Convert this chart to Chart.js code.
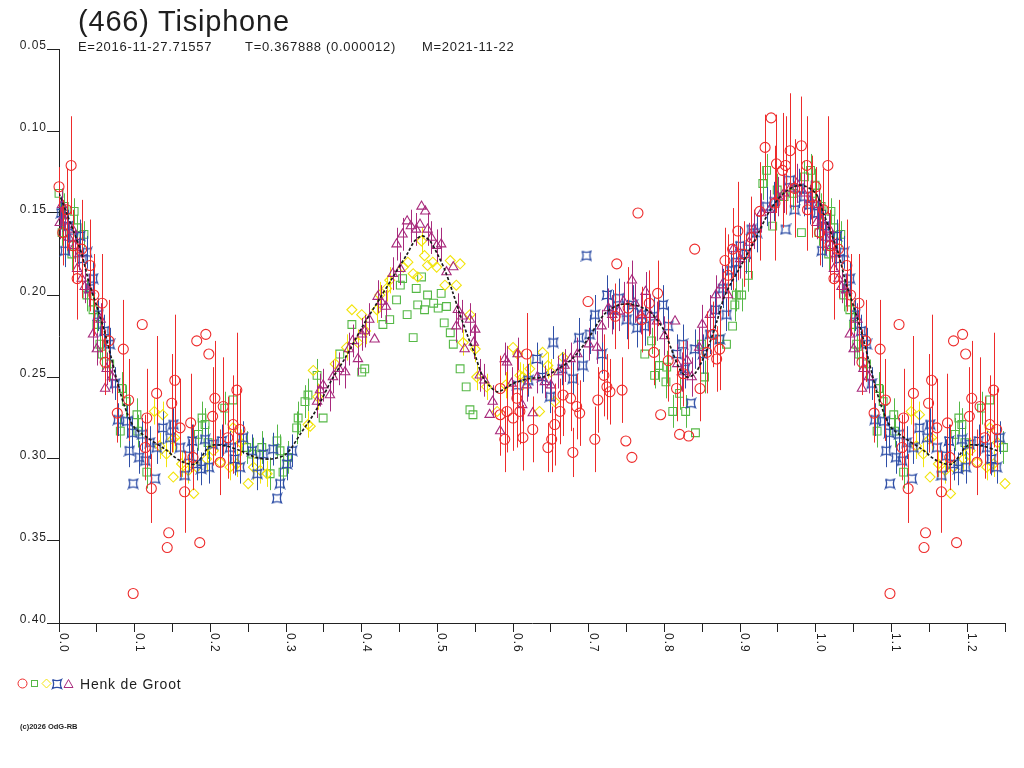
<!DOCTYPE html>
<html>
<head>
<meta charset="utf-8">
<title>(466) Tisiphone</title>
<script src="https://cdn.jsdelivr.net/npm/chart.js@4.4.1/dist/chart.umd.min.js"></script>
<style>
    body { margin: 0; background: #fff; }
    #wrap { position: relative; width: 1024px; height: 768px; overflow: hidden; }
    #lc { position: absolute; left: 0; top: 0; }
    .txt { position: absolute; color: #1e1e1e; font-family: "Liberation Sans", Arial, sans-serif; white-space: pre; }
    #title { left: 78px; top: 7px; font-size: 29px; line-height: 29px; letter-spacing: 0.8px; }
    .sub { top: 40px; font-size: 13px; line-height: 13px; letter-spacing: 0.7px; }
    #observer { left: 80px; top: 677px; font-size: 14px; line-height: 14px; letter-spacing: 0.8px; }
    #copy { left: 20px; top: 723px; font-size: 7.5px; line-height: 8px; font-weight: bold; }
</style>
</head>
<body>
<div id="wrap">
    <canvas id="lc" width="1024" height="768"></canvas>
    <div class="txt" id="title">(466) Tisiphone</div>
    <div class="txt sub" style="left:78px">E=2016-11-27.71557</div>
    <div class="txt sub" style="left:245px">T=0.367888 (0.000012)</div>
    <div class="txt sub" style="left:422px">M=2021-11-22</div>
    <div class="txt" id="observer">Henk de Groot</div>
    <div class="txt" id="copy">(c)2026 OdG-RB</div>
</div>
<script>
// tick labels
const phaseLabels = ['0.0', '0.1', '0.2', '0.3', '0.4', '0.5', '0.6', '0.7', '0.8', '0.9', '1.0', '1.1', '1.2'];
const magLabels = ['0.05', '0.10', '0.15', '0.20', '0.25', '0.30', '0.35', '0.40'];

// observations: [phase, magnitude, error]
const redObs = [
    [0.000, 0.134, 0.012], [0.005, 0.162, 0.020], [0.010, 0.148, 0.025], [0.016, 0.121, 0.030],
    [0.019, 0.170, 0.022], [0.024, 0.190, 0.025], [0.030, 0.172, 0.030], [0.041, 0.182, 0.028],
    [0.046, 0.200, 0.025], [0.057, 0.205, 0.030], [0.061, 0.241, 0.020], [0.066, 0.228, 0.025],
    [0.077, 0.272, 0.018], [0.085, 0.233, 0.030], [0.092, 0.264, 0.025], [0.098, 0.382, 0.000],
    [0.110, 0.218, 0.000], [0.114, 0.293, 0.020], [0.116, 0.275, 0.030], [0.122, 0.318, 0.021],
    [0.129, 0.260, 0.035], [0.143, 0.354, 0.000], [0.145, 0.345, 0.000], [0.149, 0.266, 0.030],
    [0.153, 0.252, 0.040], [0.160, 0.281, 0.030], [0.166, 0.320, 0.025], [0.174, 0.278, 0.030],
    [0.177, 0.299, 0.020], [0.182, 0.228, 0.000], [0.186, 0.351, 0.000], [0.194, 0.224, 0.000],
    [0.198, 0.236, 0.000], [0.203, 0.274, 0.030], [0.206, 0.263, 0.035], [0.213, 0.302, 0.020],
    [0.217, 0.268, 0.030], [0.223, 0.287, 0.025], [0.230, 0.279, 0.030], [0.235, 0.258, 0.035],
    [0.239, 0.282, 0.025],
    [0.583, 0.257, 0.020], [0.583, 0.273, 0.025], [0.589, 0.288, 0.020], [0.592, 0.271, 0.025],
    [0.600, 0.275, 0.020], [0.605, 0.263, 0.030], [0.609, 0.271, 0.020], [0.613, 0.287, 0.020],
    [0.618, 0.236, 0.025], [0.626, 0.282, 0.020], [0.646, 0.293, 0.015], [0.651, 0.288, 0.020],
    [0.655, 0.279, 0.025], [0.662, 0.271, 0.020], [0.666, 0.261, 0.025], [0.676, 0.263, 0.020],
    [0.679, 0.296, 0.015], [0.684, 0.268, 0.020], [0.688, 0.272, 0.020], [0.699, 0.204, 0.000],
    [0.708, 0.288, 0.020], [0.712, 0.264, 0.020], [0.720, 0.249, 0.025], [0.724, 0.256, 0.020],
    [0.728, 0.259, 0.020], [0.735, 0.213, 0.020], [0.737, 0.181, 0.000], [0.744, 0.258, 0.020],
    [0.749, 0.289, 0.000], [0.752, 0.208, 0.025], [0.757, 0.299, 0.000], [0.765, 0.150, 0.000],
    [0.770, 0.215, 0.020], [0.780, 0.205, 0.020], [0.786, 0.235, 0.020], [0.791, 0.199, 0.020],
    [0.795, 0.273, 0.000], [0.805, 0.240, 0.025], [0.816, 0.257, 0.020], [0.820, 0.285, 0.000],
    [0.825, 0.248, 0.020], [0.832, 0.286, 0.000], [0.840, 0.172, 0.000], [0.847, 0.257, 0.020],
    [0.856, 0.235, 0.025], [0.864, 0.224, 0.020], [0.869, 0.239, 0.020], [0.873, 0.233, 0.025],
    [0.880, 0.179, 0.020], [0.884, 0.188, 0.025], [0.890, 0.172, 0.025], [0.897, 0.161, 0.030],
    [0.905, 0.175, 0.020], [0.915, 0.165, 0.025], [0.926, 0.149, 0.030], [0.933, 0.110, 0.020],
    [0.941, 0.092, 0.000], [0.946, 0.144, 0.035], [0.948, 0.120, 0.030], [0.956, 0.124, 0.035],
    [0.960, 0.121, 0.030], [0.966, 0.112, 0.035], [0.972, 0.135, 0.030], [0.981, 0.109, 0.030],
    [0.988, 0.121, 0.030], [0.989, 0.148, 0.025], [0.995, 0.140, 0.025]
];

const greenObs = [
    [0.000, 0.138, 0.008], [0.004, 0.162, 0.008], [0.007, 0.146, 0.008], [0.017, 0.175, 0.010],
    [0.020, 0.149, 0.008], [0.024, 0.159, 0.008], [0.033, 0.163, 0.008], [0.037, 0.200, 0.010],
    [0.045, 0.209, 0.010], [0.050, 0.218, 0.010], [0.054, 0.230, 0.010], [0.057, 0.236, 0.010],
    [0.067, 0.242, 0.010], [0.081, 0.283, 0.010], [0.083, 0.257, 0.010], [0.089, 0.265, 0.010],
    [0.103, 0.273, 0.010], [0.104, 0.283, 0.010], [0.116, 0.308, 0.010], [0.184, 0.285, 0.010],
    [0.189, 0.275, 0.010], [0.193, 0.279, 0.010], [0.197, 0.290, 0.010], [0.219, 0.269, 0.010],
    [0.230, 0.264, 0.010], [0.248, 0.293, 0.010], [0.256, 0.297, 0.010], [0.268, 0.293, 0.010],
    [0.279, 0.309, 0.010], [0.288, 0.289, 0.010], [0.292, 0.295, 0.010], [0.296, 0.308, 0.010],
    [0.302, 0.299, 0.010], [0.314, 0.281, 0.010], [0.316, 0.275, 0.010], [0.325, 0.265, 0.010],
    [0.329, 0.261, 0.010], [0.341, 0.249, 0.010], [0.349, 0.275, 0.000], [0.371, 0.236, 0.000],
    [0.387, 0.218, 0.000], [0.400, 0.247, 0.000], [0.404, 0.245, 0.000], [0.428, 0.218, 0.000],
    [0.437, 0.215, 0.000], [0.446, 0.203, 0.000], [0.451, 0.194, 0.000], [0.454, 0.190, 0.000],
    [0.460, 0.212, 0.000], [0.468, 0.226, 0.000], [0.472, 0.196, 0.000], [0.474, 0.206, 0.000],
    [0.479, 0.189, 0.000], [0.483, 0.209, 0.000], [0.487, 0.200, 0.000], [0.495, 0.205, 0.000],
    [0.501, 0.208, 0.000], [0.505, 0.199, 0.000], [0.509, 0.217, 0.000], [0.512, 0.207, 0.000],
    [0.517, 0.223, 0.000], [0.521, 0.230, 0.000], [0.530, 0.245, 0.000], [0.538, 0.256, 0.000],
    [0.543, 0.270, 0.000], [0.547, 0.273, 0.000],
    [0.774, 0.236, 0.000], [0.783, 0.228, 0.008], [0.787, 0.249, 0.008], [0.793, 0.243, 0.010],
    [0.802, 0.253, 0.010], [0.803, 0.244, 0.010], [0.811, 0.271, 0.010], [0.820, 0.260, 0.010],
    [0.828, 0.271, 0.010], [0.841, 0.284, 0.000], [0.849, 0.230, 0.010], [0.853, 0.250, 0.010],
    [0.873, 0.227, 0.010], [0.882, 0.230, 0.000], [0.890, 0.219, 0.000], [0.893, 0.206, 0.010],
    [0.895, 0.200, 0.010], [0.902, 0.200, 0.010], [0.911, 0.188, 0.010], [0.930, 0.132, 0.010],
    [0.935, 0.124, 0.010], [0.943, 0.158, 0.000], [0.949, 0.136, 0.010], [0.958, 0.140, 0.010],
    [0.970, 0.138, 0.010], [0.981, 0.162, 0.000], [0.985, 0.128, 0.010], [0.993, 0.124, 0.010],
    [0.999, 0.133, 0.010]
];

const yellowObs = [
    [0.126, 0.271, 0.008], [0.133, 0.292, 0.008], [0.137, 0.273, 0.008], [0.142, 0.297, 0.008],
    [0.150, 0.288, 0.008], [0.151, 0.311, 0.000], [0.153, 0.287, 0.008], [0.162, 0.303, 0.008],
    [0.171, 0.307, 0.008], [0.178, 0.321, 0.000], [0.182, 0.305, 0.008], [0.195, 0.300, 0.008],
    [0.204, 0.295, 0.008], [0.213, 0.302, 0.008], [0.226, 0.305, 0.008], [0.230, 0.281, 0.008],
    [0.235, 0.303, 0.008], [0.240, 0.290, 0.008], [0.250, 0.315, 0.000], [0.257, 0.305, 0.008],
    [0.266, 0.307, 0.008], [0.275, 0.309, 0.008], [0.329, 0.279, 0.008], [0.332, 0.280, 0.000],
    [0.336, 0.246, 0.000], [0.342, 0.262, 0.008], [0.365, 0.242, 0.008], [0.380, 0.232, 0.008],
    [0.387, 0.209, 0.000], [0.395, 0.229, 0.008], [0.400, 0.212, 0.000], [0.405, 0.222, 0.008],
    [0.420, 0.209, 0.008], [0.424, 0.200, 0.008], [0.433, 0.196, 0.008], [0.437, 0.191, 0.008],
    [0.455, 0.183, 0.000], [0.461, 0.180, 0.000], [0.468, 0.187, 0.000], [0.474, 0.189, 0.000],
    [0.479, 0.167, 0.008], [0.483, 0.176, 0.000], [0.487, 0.182, 0.000], [0.494, 0.180, 0.000],
    [0.499, 0.183, 0.000], [0.510, 0.194, 0.000], [0.517, 0.179, 0.000], [0.525, 0.194, 0.000],
    [0.530, 0.181, 0.000], [0.534, 0.229, 0.008], [0.543, 0.212, 0.000], [0.550, 0.233, 0.008],
    [0.552, 0.250, 0.008], [0.565, 0.256, 0.008], [0.579, 0.271, 0.000], [0.590, 0.255, 0.008],
    [0.600, 0.232, 0.000], [0.606, 0.236, 0.008], [0.609, 0.249, 0.008], [0.613, 0.250, 0.008],
    [0.622, 0.245, 0.008], [0.635, 0.271, 0.000], [0.639, 0.235, 0.000], [0.646, 0.243, 0.008],
    [0.650, 0.247, 0.008], [0.655, 0.265, 0.000], [0.666, 0.238, 0.000]
];

const blueObs = [
    [0.003, 0.150, 0.010], [0.008, 0.173, 0.010], [0.012, 0.158, 0.010], [0.019, 0.165, 0.010],
    [0.028, 0.164, 0.010], [0.031, 0.178, 0.010], [0.037, 0.174, 0.010], [0.041, 0.196, 0.010],
    [0.045, 0.190, 0.010], [0.052, 0.212, 0.010], [0.060, 0.222, 0.010], [0.067, 0.230, 0.010],
    [0.074, 0.254, 0.010], [0.078, 0.276, 0.010], [0.090, 0.277, 0.010], [0.093, 0.295, 0.010],
    [0.097, 0.284, 0.010], [0.098, 0.315, 0.000], [0.106, 0.299, 0.010], [0.110, 0.285, 0.010],
    [0.114, 0.301, 0.010], [0.120, 0.290, 0.010], [0.127, 0.312, 0.000], [0.129, 0.293, 0.010],
    [0.137, 0.281, 0.010], [0.147, 0.287, 0.010], [0.151, 0.279, 0.010], [0.160, 0.293, 0.010],
    [0.166, 0.310, 0.010], [0.172, 0.298, 0.010], [0.176, 0.289, 0.010], [0.182, 0.303, 0.010],
    [0.188, 0.306, 0.010], [0.193, 0.288, 0.010], [0.198, 0.305, 0.010], [0.203, 0.291, 0.010],
    [0.215, 0.289, 0.010], [0.226, 0.293, 0.010], [0.232, 0.300, 0.010], [0.239, 0.305, 0.010],
    [0.243, 0.287, 0.010], [0.255, 0.295, 0.010], [0.262, 0.309, 0.010], [0.270, 0.297, 0.010],
    [0.283, 0.294, 0.010], [0.288, 0.324, 0.000], [0.292, 0.315, 0.010], [0.301, 0.303, 0.010],
    [0.308, 0.295, 0.010],
    [0.605, 0.255, 0.010], [0.620, 0.252, 0.010], [0.631, 0.239, 0.010], [0.638, 0.250, 0.010],
    [0.649, 0.262, 0.010], [0.653, 0.229, 0.010], [0.665, 0.245, 0.010], [0.679, 0.251, 0.010],
    [0.687, 0.226, 0.012], [0.692, 0.243, 0.010], [0.697, 0.176, 0.000], [0.701, 0.224, 0.012],
    [0.708, 0.212, 0.012], [0.717, 0.236, 0.012], [0.724, 0.200, 0.012], [0.732, 0.209, 0.012],
    [0.740, 0.202, 0.012], [0.750, 0.215, 0.012], [0.758, 0.206, 0.012], [0.764, 0.220, 0.012],
    [0.770, 0.212, 0.012], [0.774, 0.219, 0.012], [0.786, 0.213, 0.012], [0.798, 0.206, 0.012],
    [0.805, 0.219, 0.012], [0.816, 0.236, 0.012], [0.824, 0.230, 0.012], [0.827, 0.245, 0.012],
    [0.835, 0.266, 0.000], [0.840, 0.233, 0.012], [0.851, 0.236, 0.012], [0.860, 0.224, 0.012],
    [0.867, 0.209, 0.012], [0.873, 0.227, 0.010], [0.877, 0.196, 0.012], [0.882, 0.212, 0.010],
    [0.888, 0.185, 0.012], [0.895, 0.180, 0.012], [0.900, 0.170, 0.012], [0.908, 0.175, 0.012],
    [0.915, 0.160, 0.012], [0.922, 0.162, 0.012], [0.935, 0.146, 0.012], [0.945, 0.143, 0.012],
    [0.960, 0.160, 0.000], [0.966, 0.130, 0.012], [0.972, 0.148, 0.012], [0.978, 0.135, 0.012],
    [0.985, 0.140, 0.012], [0.992, 0.145, 0.012]
];

const purpleObs = [
    [0.001, 0.156, 0.010], [0.004, 0.145, 0.010], [0.008, 0.155, 0.010], [0.013, 0.165, 0.010],
    [0.018, 0.160, 0.010], [0.021, 0.170, 0.010], [0.024, 0.184, 0.010], [0.027, 0.175, 0.010],
    [0.030, 0.190, 0.010], [0.034, 0.195, 0.010], [0.040, 0.197, 0.010], [0.045, 0.224, 0.010],
    [0.050, 0.233, 0.010], [0.055, 0.215, 0.010], [0.061, 0.257, 0.000], [0.063, 0.245, 0.010],
    [0.070, 0.250, 0.010],
    [0.341, 0.265, 0.010], [0.345, 0.258, 0.010], [0.349, 0.255, 0.010], [0.358, 0.261, 0.010],
    [0.362, 0.250, 0.010], [0.370, 0.245, 0.010], [0.378, 0.247, 0.010], [0.383, 0.233, 0.010],
    [0.388, 0.228, 0.010], [0.395, 0.239, 0.010], [0.400, 0.224, 0.010], [0.404, 0.222, 0.010],
    [0.410, 0.215, 0.010], [0.417, 0.227, 0.000], [0.421, 0.201, 0.010], [0.426, 0.204, 0.010],
    [0.432, 0.207, 0.010], [0.441, 0.187, 0.010], [0.446, 0.169, 0.010], [0.451, 0.184, 0.010],
    [0.454, 0.163, 0.010], [0.460, 0.155, 0.000], [0.465, 0.158, 0.010], [0.472, 0.160, 0.010],
    [0.477, 0.157, 0.000], [0.479, 0.146, 0.000], [0.484, 0.149, 0.000], [0.487, 0.160, 0.010],
    [0.492, 0.165, 0.010], [0.499, 0.170, 0.010], [0.505, 0.169, 0.010], [0.512, 0.186, 0.000],
    [0.521, 0.183, 0.000], [0.525, 0.219, 0.010], [0.527, 0.209, 0.010], [0.533, 0.213, 0.010],
    [0.536, 0.233, 0.000], [0.543, 0.215, 0.010], [0.548, 0.229, 0.010], [0.550, 0.221, 0.010],
    [0.556, 0.249, 0.010], [0.562, 0.252, 0.010], [0.569, 0.273, 0.000], [0.573, 0.265, 0.010],
    [0.583, 0.283, 0.000], [0.589, 0.239, 0.010], [0.592, 0.241, 0.010], [0.598, 0.254, 0.010],
    [0.606, 0.236, 0.010], [0.612, 0.267, 0.010], [0.618, 0.255, 0.010], [0.626, 0.272, 0.010],
    [0.632, 0.250, 0.010], [0.642, 0.253, 0.010], [0.650, 0.255, 0.010], [0.660, 0.247, 0.010],
    [0.668, 0.243, 0.010], [0.676, 0.239, 0.010], [0.685, 0.236, 0.010], [0.700, 0.230, 0.010],
    [0.711, 0.232, 0.010], [0.717, 0.219, 0.010], [0.726, 0.208, 0.012], [0.731, 0.212, 0.012],
    [0.740, 0.210, 0.012], [0.746, 0.204, 0.012], [0.757, 0.191, 0.012], [0.761, 0.205, 0.012],
    [0.769, 0.212, 0.012], [0.775, 0.198, 0.012], [0.781, 0.212, 0.012], [0.790, 0.216, 0.012],
    [0.800, 0.225, 0.012], [0.814, 0.216, 0.000], [0.817, 0.242, 0.012], [0.823, 0.247, 0.012],
    [0.830, 0.240, 0.012], [0.836, 0.250, 0.012], [0.846, 0.232, 0.012], [0.850, 0.218, 0.012],
    [0.860, 0.212, 0.012], [0.868, 0.200, 0.012], [0.876, 0.194, 0.012], [0.884, 0.200, 0.012],
    [0.891, 0.172, 0.012], [0.900, 0.178, 0.012], [0.912, 0.168, 0.012], [0.918, 0.160, 0.012],
    [0.928, 0.150, 0.012], [0.939, 0.148, 0.012], [0.950, 0.140, 0.012], [0.958, 0.138, 0.012],
    [0.966, 0.135, 0.012], [0.975, 0.132, 0.012], [0.984, 0.138, 0.012], [0.993, 0.142, 0.012]
];

// Fourier fit
const fitPhase = [0.00, 0.01, 0.02, 0.03, 0.04, 0.05, 0.06, 0.07, 0.08, 0.09, 0.10, 0.12, 0.14, 0.16,
    0.18, 0.20, 0.22, 0.24, 0.26, 0.28, 0.30, 0.32, 0.34, 0.36, 0.38, 0.40, 0.42, 0.44, 0.46, 0.47,
    0.48, 0.49, 0.50, 0.51, 0.52, 0.53, 0.54, 0.55, 0.56, 0.57, 0.58, 0.60, 0.62, 0.64, 0.66, 0.68,
    0.70, 0.72, 0.74, 0.76, 0.78, 0.79, 0.80, 0.81, 0.82, 0.83, 0.84, 0.85, 0.86, 0.87, 0.88, 0.90,
    0.92, 0.94, 0.96, 0.98];
const fitMag = [0.138, 0.150, 0.162, 0.175, 0.193, 0.207, 0.222, 0.240, 0.258, 0.272, 0.281, 0.288, 0.294, 0.301,
    0.303, 0.292, 0.292, 0.295, 0.299, 0.300, 0.297, 0.284, 0.270, 0.252, 0.237, 0.220, 0.205, 0.190, 0.175, 0.167,
    0.164, 0.167, 0.175, 0.185, 0.198, 0.212, 0.225, 0.237, 0.250, 0.256, 0.259, 0.254, 0.251, 0.250, 0.245, 0.238,
    0.226, 0.212, 0.206, 0.206, 0.210, 0.215, 0.222, 0.234, 0.245, 0.250, 0.248, 0.240, 0.229, 0.215, 0.200, 0.183,
    0.166, 0.148, 0.137, 0.133];

const PHASE_MAX = 1.25;

// phases below 0.25 are shown a second time after 1.0
function toPoints(rows) {
    const pts = rows.map(r => ({x: r[0], y: r[1], e: r[2]}));
    rows.forEach(r => {
        if (r[0] + 1 <= PHASE_MAX) pts.push({x: r[0] + 1, y: r[1], e: r[2]});
    });
    return pts;
}

function fitPoints() {
    const pts = fitPhase.map((p, i) => ({x: p, y: fitMag[i]}));
    fitPhase.forEach((p, i) => {
        if (p + 1 <= PHASE_MAX) pts.push({x: p + 1, y: fitMag[i]});
    });
    return pts.sort((a, b) => a.x - b.x);
}

const colors = {
    red: '#ee2b2b',
    green: '#55b846',
    yellow: '#f2e40c',
    blue: '#2e4ea6',
    purple: '#a82a7c'
};

// concave four-point marker used for the blue series
function makeStar(color) {
    const c = document.createElement('canvas');
    c.width = 12;
    c.height = 12;
    const g = c.getContext('2d');
    const m = 6, h = 4.5;
    g.strokeStyle = color;
    g.lineWidth = 1.3;
    g.beginPath();
    g.moveTo(m - h, m - h);
    g.quadraticCurveTo(m, m - h + 2.2, m + h, m - h);
    g.quadraticCurveTo(m + h - 2.2, m, m + h, m + h);
    g.quadraticCurveTo(m, m + h - 2.2, m - h, m + h);
    g.quadraticCurveTo(m - h + 2.2, m, m - h, m - h);
    g.stroke();
    return c;
}
const blueStar = makeStar(colors.blue);

const errorBars = {
    id: 'errorBars',
    beforeDatasetDraw(chart, args) {
        const ds = chart.data.datasets[args.index];
        if (!ds.errorBars) return;
        const ctx = chart.ctx;
        const yScale = chart.scales.y;
        ctx.save();
        ctx.strokeStyle = ds.borderColor;
        ctx.lineWidth = 1;
        ctx.beginPath();
        args.meta.data.forEach((pt, i) => {
            const d = ds.data[i];
            if (!d.e) return;
            const x = Math.round(pt.x) + 0.5;
            ctx.moveTo(x, yScale.getPixelForValue(d.y - d.e));
            ctx.lineTo(x, yScale.getPixelForValue(d.y + d.e));
        });
        ctx.stroke();
        ctx.restore();
    }
};

const axisText = {
    id: 'axisText',
    afterDraw(chart) {
        const {ctx, scales: {x, y}} = chart;
        ctx.save();
        ctx.fillStyle = '#1e1e1e';
        ctx.font = '12px "Liberation Sans", Arial, sans-serif';
        ctx.letterSpacing = '1px';

        ctx.textAlign = 'right';
        ctx.textBaseline = 'alphabetic';
        magLabels.forEach(t => {
            ctx.fillText(t, x.left - 12, y.getPixelForValue(parseFloat(t)));
        });

        ctx.textAlign = 'left';
        phaseLabels.forEach(t => {
            ctx.save();
            ctx.translate(x.getPixelForValue(parseFloat(t)) + 1, y.bottom + 10);
            ctx.rotate(Math.PI / 2);
            ctx.fillText(t, 0, 0);
            ctx.restore();
        });

        // legend markers
        ctx.lineWidth = 1;
        ctx.strokeStyle = colors.red;
        ctx.beginPath();
        ctx.arc(22.5, 683.5, 4.5, 0, Math.PI * 2);
        ctx.stroke();
        ctx.strokeStyle = colors.green;
        ctx.strokeRect(31.5, 680.5, 6, 6);
        ctx.strokeStyle = colors.yellow;
        ctx.beginPath();
        ctx.moveTo(46.5, 679);
        ctx.lineTo(51, 683.5);
        ctx.lineTo(46.5, 688);
        ctx.lineTo(42, 683.5);
        ctx.closePath();
        ctx.stroke();
        ctx.drawImage(blueStar, 51, 678);
        ctx.strokeStyle = colors.purple;
        ctx.beginPath();
        ctx.moveTo(68.5, 679.5);
        ctx.lineTo(73, 687.5);
        ctx.lineTo(64, 687.5);
        ctx.closePath();
        ctx.stroke();
        ctx.restore();
    }
};

function obsSet(label, rows, style, radius, color, order) {
    return {
        label: label,
        data: toPoints(rows),
        pointStyle: style,
        pointRadius: radius,
        pointHoverRadius: radius,
        borderColor: color,
        backgroundColor: 'rgba(0,0,0,0)',
        pointBorderWidth: 1.1,
        errorBars: true,
        clip: false,
        order: order
    };
}

new Chart(document.getElementById('lc'), {
    type: 'scatter',
    data: {
        datasets: [
            {
                label: 'fit',
                data: fitPoints(),
                showLine: true,
                borderColor: '#1a1a1a',
                borderWidth: 1.7,
                borderDash: [3, 2],
                tension: 0.3,
                pointRadius: 0,
                order: 0
            },
            obsSet('Henk de Groot 1', redObs, 'circle', 5, colors.red, 1),
            obsSet('Henk de Groot 2', greenObs, 'rect', 5.5, colors.green, 5),
            obsSet('Henk de Groot 3', yellowObs, 'rectRot', 5, colors.yellow, 4),
            obsSet('Henk de Groot 4', blueObs, blueStar, 5, colors.blue, 3),
            obsSet('Henk de Groot 5', purpleObs, 'triangle', 5.4, colors.purple, 2)
        ]
    },
    options: {
        responsive: false,
        animation: false,
        devicePixelRatio: 1,
        layout: {padding: {left: 59, right: 19, top: 49, bottom: 145}},
        plugins: {
            legend: {display: false},
            tooltip: {enabled: false}
        },
        scales: {
            x: {
                type: 'linear',
                min: 0,
                max: PHASE_MAX,
                afterFit(scale) { scale.height = 0; },
                ticks: {display: false, stepSize: 0.05},
                grid: {drawOnChartArea: false, drawTicks: true, tickLength: 9, color: '#222'},
                border: {color: '#222'}
            },
            y: {
                type: 'linear',
                reverse: true,
                min: 0.05,
                max: 0.40,
                afterFit(scale) { scale.width = 0; },
                ticks: {display: false, stepSize: 0.05},
                grid: {drawOnChartArea: false, drawTicks: true, tickLength: 12, color: '#222'},
                border: {color: '#222'}
            }
        }
    },
    plugins: [errorBars, axisText]
});
</script>
</body>
</html>
